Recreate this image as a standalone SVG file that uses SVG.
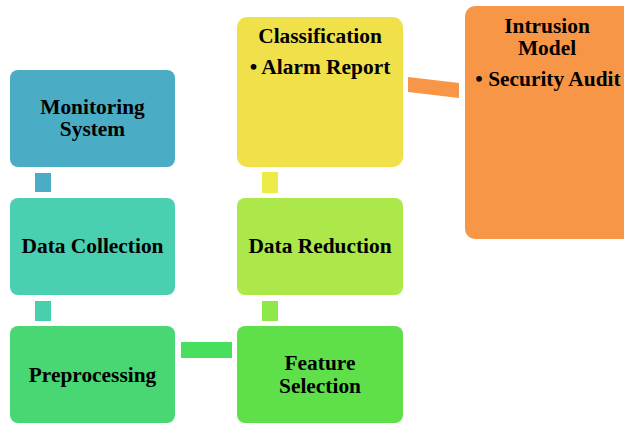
<svg xmlns="http://www.w3.org/2000/svg" width="624" height="423" viewBox="0 0 624 423">
<style>
text{font-family:"Liberation Serif","Times New Roman",serif;font-weight:bold;font-size:21.4px;fill:#000;text-anchor:middle}
</style>
<rect width="624" height="423" fill="#fff"/>
<g id="connectors">
<rect x="35" y="173" width="16" height="19" fill="#4AACC5"/>
<rect x="35" y="301" width="16" height="20" fill="#4ACFAE"/>
<rect x="181" y="342" width="51" height="16" fill="#48DE5E"/>
<rect x="262" y="301" width="16" height="20" fill="#8DE84A"/>
<rect x="262" y="172" width="16" height="21" fill="#EDEB47"/>
<polygon points="408,77 459,83 459,98 408,92" fill="#F79646"/>
</g>
<g id="monitoring">
<rect x="10" y="70" width="165" height="97" rx="8" fill="#4AACC5"/>
<text x="92.5" y="114">Monitoring</text>
<text x="92.5" y="136">System</text>
</g>
<g id="collection">
<rect x="10" y="198" width="165" height="97" rx="8" fill="#4ACFB0"/>
<text x="92.5" y="253">Data Collection</text>
</g>
<g id="preprocessing">
<rect x="10" y="326" width="165" height="97" rx="8" fill="#48D772"/>
<text x="92.5" y="382">Preprocessing</text>
</g>
<g id="feature">
<rect x="237" y="326" width="166" height="97" rx="8" fill="#5FE04A"/>
<text x="320" y="370">Feature</text>
<text x="320" y="393">Selection</text>
</g>
<g id="reduction">
<rect x="237" y="198" width="166" height="97" rx="8" fill="#ADE84A"/>
<text x="320" y="253">Data Reduction</text>
</g>
<g id="classification">
<rect x="237" y="17" width="166" height="150" rx="10" fill="#F0E04A"/>
<text x="320" y="43">Classification</text>
<text x="320" y="74">• Alarm Report</text>
</g>
<g id="intrusion">
<rect x="465" y="6" width="170" height="233" rx="10" fill="#F79646"/>
<text x="547" y="33">Intrusion</text>
<text x="547" y="55">Model</text>
<text x="548" y="86">• Security Audit</text>
</g>
</svg>
